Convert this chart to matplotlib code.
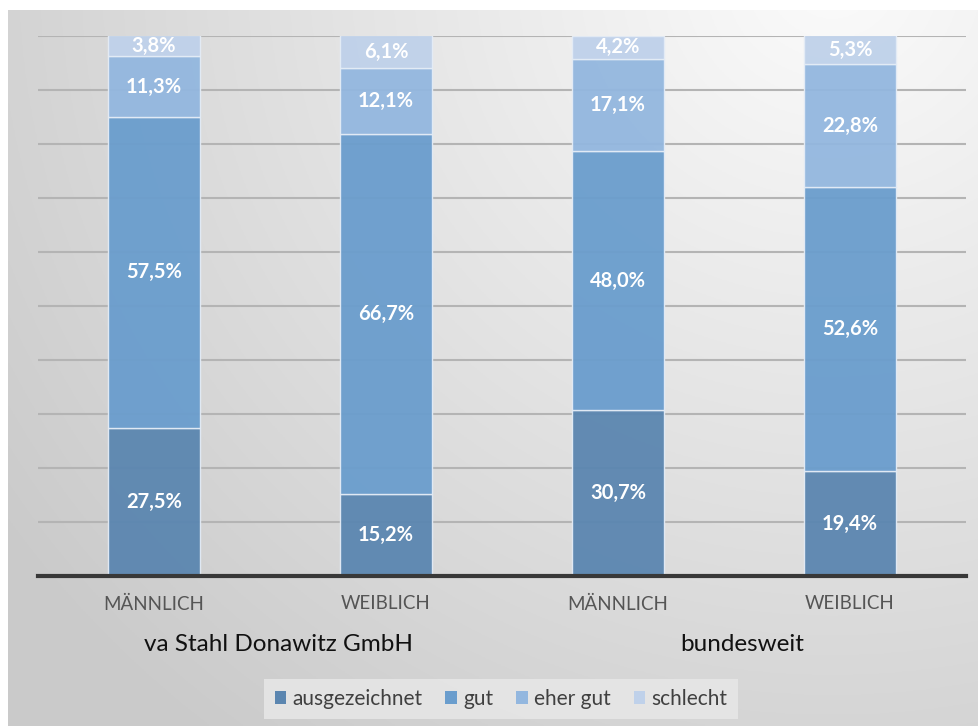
import numpy as np
import matplotlib
matplotlib.use("Agg")
import matplotlib.pyplot as plt
from matplotlib.patches import Patch

categories = ["MÄNNLICH", "WEIBLICH", "MÄNNLICH", "WEIBLICH"]
groups = ["va Stahl Donawitz GmbH", "bundesweit"]
series_names = ["ausgezeichnet", "gut", "eher gut", "schlecht"]
ausgezeichnet = [27.5, 15.2, 30.7, 19.4]
gut = [57.5, 66.7, 48.0, 52.6]
eher_gut = [11.3, 12.1, 17.1, 22.8]
schlecht = [3.8, 6.1, 4.2, 5.3]
colors = ["#5b86b0", "#6a9dcd", "#93b7df", "#bfd1ea"]

plt.rcParams['font.family'] = ['Lato', 'DejaVu Sans']

W, H = 979, 726
fig = plt.figure(figsize=(W / 100, H / 100), dpi=100)
fig.patch.set_facecolor("white")

# background gradient panel
bg = fig.add_axes([8 / W, 0, 1 - 8 / W, (H - 10) / H], zorder=-5)
ny, nx = 300, 400
yy, xx = np.mgrid[0:ny, 0:nx]
xf = xx / (nx - 1)
yf = 1 - yy / (ny - 1)  # 1 at top
d = np.sqrt(((xf - 0.85) * 1.3) ** 2 + ((yf - 1.05) * 1.0) ** 2)
val = 0.985 - 0.19 * np.clip(d / 1.35, 0, 1)
img = np.dstack([val, val, val])
bg.imshow(img, aspect="auto", extent=[0, 1, 0, 1], origin="upper")
bg.set_axis_off()

ax = fig.add_axes([38 / W, (H - 576) / H, (966 - 38) / W, (576 - 36) / H])
ax.patch.set_alpha(0)

x = np.arange(len(categories))
width = 92 / 232
data = [ausgezeichnet, gut, eher_gut, schlecht]
bottom = np.zeros(len(categories))
for vals, col, name in zip(data, colors, series_names):
    vals = np.array(vals)
    ax.bar(x, vals, width, bottom=bottom, color=col, edgecolor="#e4ecf6",
           linewidth=1.0, label=name, zorder=3, alpha=0.95)
    for xi, v, b in zip(x, vals, bottom):
        ax.text(xi, b + v / 2, f"{v:.1f}%".replace(".", ","), ha="center", va="center",
                color="white", fontsize=14.5, fontweight="bold", zorder=5)
    bottom = bottom + vals

ax.set_xlim(-0.5, 3.5)
ax.set_ylim(0, 100)
ax.set_yticks(np.arange(10, 101, 10))
ax.yaxis.grid(True, color="#b4b4b4", linewidth=1.5, zorder=0)
ax.set_yticklabels([])
ax.tick_params(axis="y", length=0)
for s in ["top", "right", "left"]:
    ax.spines[s].set_visible(False)
ax.spines["bottom"].set_color("#383838")
ax.spines["bottom"].set_linewidth(3)
ax.spines["bottom"].set_zorder(6)
ax.set_xticks(x)
ax.set_xticklabels(categories, color="#555555", fontsize=13.5)
ax.tick_params(axis="x", length=0, pad=14)

# group labels
for gi, g in enumerate(groups):
    cx = (x[2 * gi] + x[2 * gi + 1]) / 2 + 0.035
    ax.text(cx, -12.7, g, ha="center", va="center", fontsize=17.5, color="#111111",
            transform=ax.transData, clip_on=False)

handles = [Patch(facecolor=c, edgecolor="none") for c in colors]
leg = fig.legend(handles, series_names, loc="center", bbox_to_anchor=(501 / W, (H - 699) / H),
                 ncol=4, frameon=True, fontsize=15, handlelength=0.55, handleheight=0.55,
                 handletextpad=0.3, columnspacing=1.1, borderpad=0.5,
                 labelcolor="#404040")
leg.get_frame().set_facecolor("#e6e6e6")
leg.get_frame().set_edgecolor("none")
leg.get_frame().set_alpha(0.9)
leg.get_frame().set_boxstyle("square", pad=0.0)

fig.savefig("out.png", dpi=100)
